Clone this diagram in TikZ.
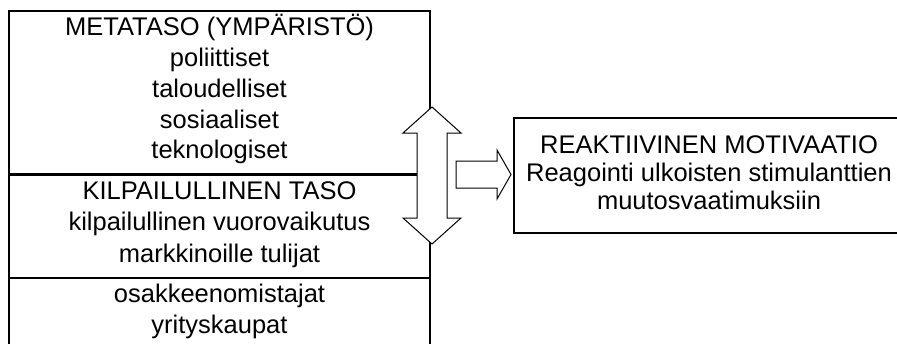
\documentclass[tikz,border=0pt]{standalone}
\usepackage{fontspec}
\setmainfont{Liberation Sans}
\begin{document}
\begin{tikzpicture}[x=1pt,y=-1pt,
  boxline/.style={draw=black,line width=1.4pt},
  arrowshape/.style={draw=black,fill=white,line width=1pt,line join=miter},
  txt/.style={anchor=base,inner sep=0pt,font=\fontsize{25.5}{30}\selectfont}]
\useasboundingbox (0,0) rectangle (897,343);
\clip (0,0) rectangle (897,343);
% left box
\draw[boxline] (9,350) -- (9,11) -- (430,11) -- (430,350);
\draw[boxline] (9,278) -- (430,278);
% double arrow
\draw[arrowshape] (432,107) -- (461,133) -- (447,133) -- (447,218) -- (461,218)
  -- (432,244) -- (403,218) -- (417,218) -- (417,133) -- (403,133) -- cycle;
\draw[draw=black,line width=2.6pt] (9,174.5) -- (417,174.5);
% right arrow
\draw[arrowshape] (456,161) -- (497,161) -- (497,150) -- (511,174.5) -- (497,199)
  -- (497,188) -- (456,188) -- cycle;
% right box
\draw[boxline] (905,118) -- (514,118) -- (514,233) -- (905,233);
% texts
\node[txt] (m1) at (219.5,35) {METATASO (YMPÄRISTÖ)};
\node[txt] (m2) at (219.5,66) {poliittiset};
\node[txt] (m3) at (219.5,97) {taloudelliset};
\node[txt] (m4) at (219.5,128) {sosiaaliset};
\node[txt] (m5) at (219.5,158) {teknologiset};
\node[txt] (k1) at (219.5,199) {KILPAILULLINEN TASO};
\node[txt] (k2) at (219.5,230) {kilpailullinen vuorovaikutus};
\node[txt] (k3) at (219.5,262) {markkinoille tulijat};
\node[txt] (o1) at (219.5,302) {osakkeenomistajat};
\node[txt] (o2) at (219.5,333) {yrityskaupat};
\node[txt] (r1) at (709,153) {REAKTIIVINEN MOTIVAATIO};
\node[txt] (r2) at (709,181) {Reagointi ulkoisten stimulanttien};
\node[txt] (r3) at (709,209) {muutosvaatimuksiin};
\end{tikzpicture}
\end{document}
